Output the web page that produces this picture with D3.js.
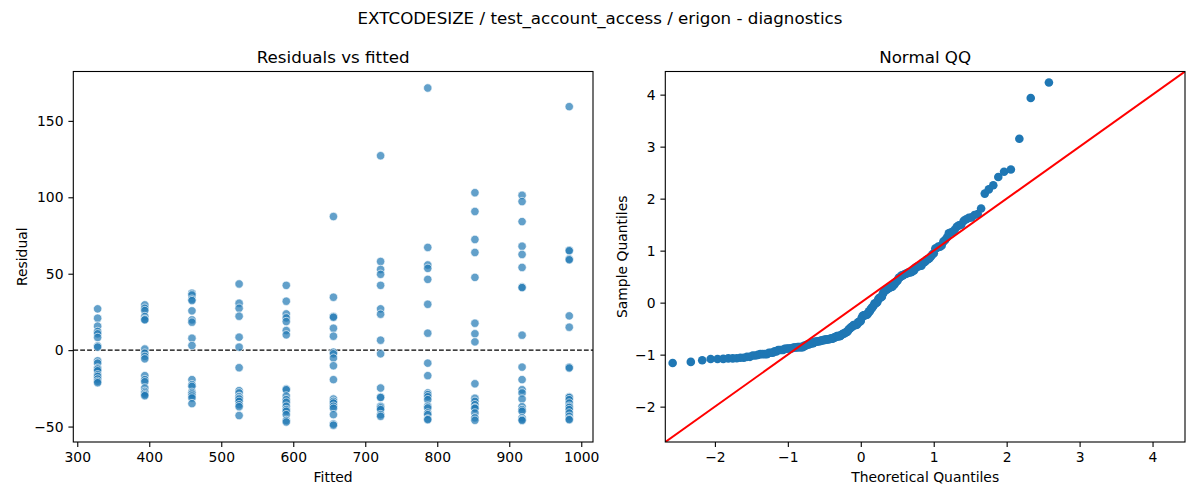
<!DOCTYPE html>
<html>
<head>
<meta charset="utf-8">
<script src="https://cdn.jsdelivr.net/npm/d3@7"></script>
<style>
  body { margin: 0; background: #fff; }
  svg text { font-family: "DejaVu Sans", sans-serif; fill: #000; }
</style>
</head>
<body>
<script>
// fitted levels (x) and the residuals seen at each level
const fittedLevels = [328.3, 393.8, 459.3, 524.8, 590.3, 655.8, 721.3, 786.8, 852.3, 917.8, 983.3];
const residualGroups = [
  [27, 20.9, 15.7, 12.2, 10.7, 8.3, 2.8, 2.0, -7, -8.5, -11.7, -12.4, -13.5, -16.1, -17.2, -18.9, -20.4, -21.3],
  [29.6, 27.4, 25.9, 22, 20.2, 19.8, 0.7, -2, -4.1, -5.7, -16.7, -19.3, -20.7, -24.8, -27, -28, -29, -29.8],
  [37.2, 36.1, 33.3, 32.4, 25.7, 19.8, 18.3, 7.8, 3.0, -19.3, -22.6, -23.7, -27.6, -28.7, -30, -31.3, -35],
  [43.3, 30.7, 27.4, 22.2, 8.5, 2, -11.5, -26.5, -28, -30.2, -30.5, -31.5, -32, -33.5, -35.7, -37, -42.8],
  [42.4, 32, 23.7, 21.1, 18.7, 12.8, 10, -25.4, -25.9, -30, -32.4, -34.1, -36.7, -38.9, -40, -42.2, -46, -47],
  [87.4, 34.6, 22, 21.5, 14.3, 9.1, -1.3, -2.4, -5.2, -10.2, -19.3, -32, -33.5, -34.6, -36.7, -38, -42.2, -48.3, -49.1],
  [127.2, 58, 52.8, 49.6, 42.4, 27, 23.5, 6.5, -2.4, -24.8, -30.7, -31, -36.7, -37, -37.8, -38.9, -42.2, -43.3],
  [171.5, 67.2, 55.7, 53.5, 46.3, 30, 11.1, -8.5, -16.7, -28, -29.1, -30.5, -32.4, -36.7, -37.8, -41.1, -42.2, -45, -45.5],
  [103, 90.7, 72.4, 63.9, 47.6, 17.6, 10.7, 5.4, -22, -31.5, -33.5, -35.7, -37.8, -38, -41.1, -44.3, -45.9],
  [101.3, 97.2, 84.1, 68, 62.6, 54.1, 41.3, 40.9, 9.8, -11.1, -19.3, -25.9, -28, -32, -37, -38.9, -40, -44.3, -45.4, -46],
  [159.3, 65.4, 65, 59.6, 59.1, 22.4, 15, -11.1, -11.7, -30.7, -31, -32.4, -34.6, -36.7, -37.5, -38.9, -41.1, -43.3, -45, -45.5]
];
const residTicks = [-50, 0, 50, 100, 150];
const fittedTicks = [300, 400, 500, 600, 700, 800, 900, 1000];
const qqTicks = [-2, -1, 0, 1, 2, 3, 4];

const W = 1200, H = 500;
const blue = '#1f77b4';
const tickFont = '13.9px';

const svg = d3.select('body').append('svg')
  .attr('width', W)
  .attr('height', H);

svg.append('text')
  .attr('x', 600).attr('y', 24)
  .attr('text-anchor', 'middle')
  .style('font-size', '16.7px')
  .text('EXTCODESIZE / test_account_access / erigon - diagnostics');

// flatten groups into points
const points = [];
fittedLevels.forEach((f, i) => {
  residualGroups[i].forEach(r => points.push({ fitted: f, resid: r }));
});

// inverse normal cdf (Acklam)
function normInv(p) {
  const a = [-3.969683028665376e+01, 2.209460984245205e+02, -2.759285104469687e+02, 1.383577518672690e+02, -3.066479806614716e+01, 2.506628277459239e+00];
  const b = [-5.447609879822406e+01, 1.615858368580409e+02, -1.556989798598866e+02, 6.680131188771972e+01, -1.328068155288572e+01];
  const c = [-7.784894002430293e-03, -3.223964580411365e-01, -2.400758277161838e+00, -2.549732539343734e+00, 4.374664141464968e+00, 2.938163982698783e+00];
  const d = [7.784695709041462e-03, 3.224671290700398e-01, 2.445134137142996e+00, 3.754408661907416e+00];
  const pl = 0.02425;
  let q, r;
  if (p < pl) {
    q = Math.sqrt(-2 * Math.log(p));
    return (((((c[0] * q + c[1]) * q + c[2]) * q + c[3]) * q + c[4]) * q + c[5]) / ((((d[0] * q + d[1]) * q + d[2]) * q + d[3]) * q + 1);
  }
  if (p > 1 - pl) {
    q = Math.sqrt(-2 * Math.log(1 - p));
    return -(((((c[0] * q + c[1]) * q + c[2]) * q + c[3]) * q + c[4]) * q + c[5]) / ((((d[0] * q + d[1]) * q + d[2]) * q + d[3]) * q + 1);
  }
  q = p - 0.5;
  r = q * q;
  return (((((a[0] * r + a[1]) * r + a[2]) * r + a[3]) * r + a[4]) * r + a[5]) * q / (((((b[0] * r + b[1]) * r + b[2]) * r + b[3]) * r + b[4]) * r + 1);
}

// standardized residuals vs normal quantiles
const resid = points.map(p => p.resid).sort(d3.ascending);
const n = resid.length;
const mu = d3.mean(resid);
const sd = Math.sqrt(d3.mean(resid, v => (v - mu) * (v - mu)));
const qq = resid.map((v, i) => ({ theo: normInv((i + 1) / (n + 1)), sample: (v - mu) / sd }));

function styleAxis(g) {
  g.select('.domain').remove();
  g.selectAll('.tick line').attr('stroke', '#000').attr('stroke-width', 1.1);
  g.selectAll('.tick text').style('font-size', tickFont).attr('fill', '#000');
}

function frame(x0, y0, x1, y1) {
  svg.append('rect')
    .attr('x', x0).attr('y', y0)
    .attr('width', x1 - x0).attr('height', y1 - y0)
    .attr('fill', 'none')
    .attr('stroke', '#000')
    .attr('stroke-width', 1.1);
}

// ---- left: residuals vs fitted
const L = { x0: 73.3, x1: 593, y0: 71.5, y1: 442 };
const xL = d3.scaleLinear().domain([294.5, 1016.3]).range([L.x0, L.x1]);
const yL = d3.scaleLinear().domain([-60.1, 182.3]).range([L.y1, L.y0]);

svg.append('g')
  .attr('transform', 'translate(0,' + L.y1 + ')')
  .call(d3.axisBottom(xL).tickValues(fittedTicks).tickSize(4.9).tickPadding(4.9).tickFormat(d3.format('d')))
  .call(styleAxis);
svg.append('g')
  .attr('transform', 'translate(' + L.x0 + ',0)')
  .call(d3.axisLeft(yL).tickValues(residTicks).tickSize(4.9).tickPadding(4.9).tickFormat(d => d < 0 ? '\u2212' + Math.abs(d) : d))
  .call(styleAxis);

svg.append('line')
  .attr('x1', L.x0).attr('x2', L.x1)
  .attr('y1', yL(0)).attr('y2', yL(0))
  .attr('stroke', '#000')
  .attr('stroke-width', 1.3)
  .attr('stroke-dasharray', '4.8,2.1');

svg.append('g')
  .selectAll('circle')
  .data(points)
  .join('circle')
  .attr('cx', d => xL(d.fitted))
  .attr('cy', d => yL(d.resid))
  .attr('r', 4.2)
  .attr('fill', blue)
  .attr('fill-opacity', 0.7)
  .attr('stroke', '#fff')
  .attr('stroke-opacity', 0.7)
  .attr('stroke-width', 0.9);

frame(L.x0, L.y0, L.x1, L.y1);

svg.append('text')
  .attr('x', (L.x0 + L.x1) / 2).attr('y', 63)
  .attr('text-anchor', 'middle')
  .style('font-size', '16.7px')
  .text('Residuals vs fitted');
svg.append('text')
  .attr('x', (L.x0 + L.x1) / 2).attr('y', 482)
  .attr('text-anchor', 'middle')
  .style('font-size', tickFont)
  .text('Fitted');
svg.append('text')
  .attr('transform', 'translate(27,' + (L.y0 + L.y1) / 2 + ') rotate(-90)')
  .attr('text-anchor', 'middle')
  .style('font-size', tickFont)
  .text('Residual');

// ---- right: normal QQ
const R = { x0: 665.3, x1: 1185, y0: 71.5, y1: 442 };
const qqDomain = [-2.68, 4.445];
const xR = d3.scaleLinear().domain(qqDomain).range([R.x0, R.x1]);
const yR = d3.scaleLinear().domain(qqDomain).range([R.y1, R.y0]);

const minus = d => d < 0 ? '\u2212' + Math.abs(d) : d;
svg.append('g')
  .attr('transform', 'translate(0,' + R.y1 + ')')
  .call(d3.axisBottom(xR).tickValues(qqTicks).tickSize(4.9).tickPadding(4.9).tickFormat(minus))
  .call(styleAxis);
svg.append('g')
  .attr('transform', 'translate(' + R.x0 + ',0)')
  .call(d3.axisLeft(yR).tickValues(qqTicks).tickSize(4.9).tickPadding(4.9).tickFormat(minus))
  .call(styleAxis);

const clip = svg.append('clipPath').attr('id', 'qqclip')
  .append('rect')
  .attr('x', R.x0).attr('y', R.y0)
  .attr('width', R.x1 - R.x0).attr('height', R.y1 - R.y0);

const qqG = svg.append('g').attr('clip-path', 'url(#qqclip)');
qqG.selectAll('circle')
  .data(qq)
  .join('circle')
  .attr('cx', d => xR(d.theo))
  .attr('cy', d => yR(d.sample))
  .attr('r', 4.3)
  .attr('fill', blue);

qqG.append('line')
  .attr('x1', xR(qqDomain[0])).attr('y1', yR(qqDomain[0]))
  .attr('x2', xR(qqDomain[1])).attr('y2', yR(qqDomain[1]))
  .attr('stroke', '#ff0000')
  .attr('stroke-width', 2);

frame(R.x0, R.y0, R.x1, R.y1);

svg.append('text')
  .attr('x', (R.x0 + R.x1) / 2).attr('y', 63)
  .attr('text-anchor', 'middle')
  .style('font-size', '16.7px')
  .text('Normal QQ');
svg.append('text')
  .attr('x', (R.x0 + R.x1) / 2).attr('y', 482)
  .attr('text-anchor', 'middle')
  .style('font-size', tickFont)
  .text('Theoretical Quantiles');
svg.append('text')
  .attr('transform', 'translate(627,' + (R.y0 + R.y1) / 2 + ') rotate(-90)')
  .attr('text-anchor', 'middle')
  .style('font-size', tickFont)
  .text('Sample Quantiles');
</script>
</body>
</html>
